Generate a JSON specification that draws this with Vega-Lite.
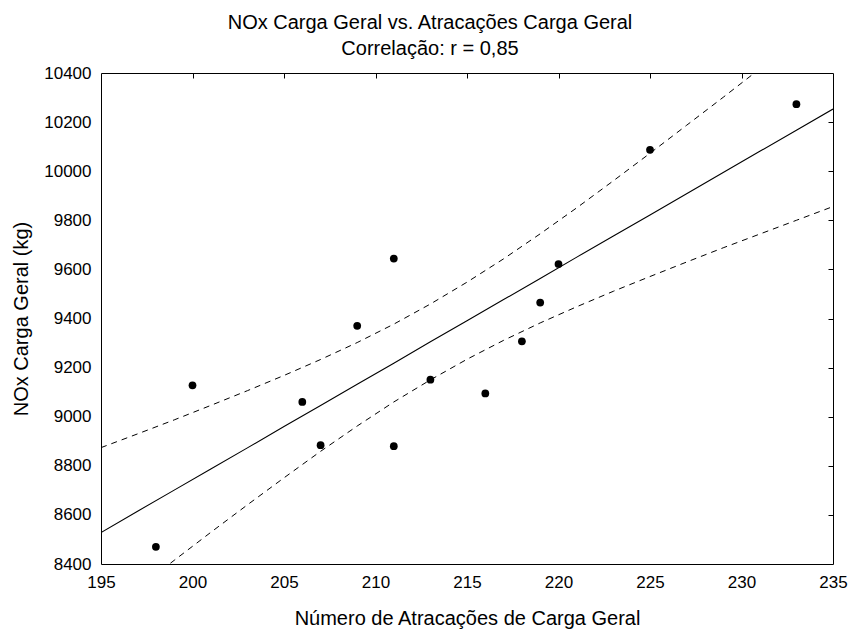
{
  "$schema": "https://vega.github.io/schema/vega-lite/v6.json",
  "width": 732,
  "height": 491,
  "autosize": {"type": "none"},
  "padding": {"left": 101, "top": 73, "right": 18, "bottom": 71},
  "background": "white",
  "config": {
    "font": "Liberation Sans",
    "view": {"stroke": "black", "strokeWidth": 1}
  },
  "title": {
    "text": ["NOx Carga Geral vs. Atracações Carga Geral", "Correlação: r = 0,85"],
    "fontSize": 20,
    "fontWeight": "normal",
    "color": "black",
    "anchor": "middle",
    "frame": "group",
    "dx": -37,
    "dy": 5,
    "lineHeight": 26,
    "offset": 10
  },
  "datasets": {
    "pts": [
      {"atr": 198, "nox": 8470},
      {"atr": 200, "nox": 9128},
      {"atr": 206, "nox": 9060},
      {"atr": 207, "nox": 8884},
      {"atr": 209, "nox": 9370},
      {"atr": 211, "nox": 9644},
      {"atr": 211, "nox": 8880},
      {"atr": 213, "nox": 9151},
      {"atr": 216, "nox": 9095},
      {"atr": 218, "nox": 9307},
      {"atr": 219, "nox": 9465},
      {"atr": 220, "nox": 9622},
      {"atr": 225, "nox": 10087},
      {"atr": 233, "nox": 10273}
    ],
    "fit": [
      {"atr": 195, "fit": 8528, "lower": 8183, "upper": 8874},
      {"atr": 197, "fit": 8615, "lower": 8299, "upper": 8930},
      {"atr": 199, "fit": 8701, "lower": 8415, "upper": 8987},
      {"atr": 201, "fit": 8787, "lower": 8529, "upper": 9046},
      {"atr": 203, "fit": 8873, "lower": 8641, "upper": 9106},
      {"atr": 205, "fit": 8960, "lower": 8751, "upper": 9168},
      {"atr": 207, "fit": 9046, "lower": 8859, "upper": 9233},
      {"atr": 209, "fit": 9132, "lower": 8962, "upper": 9302},
      {"atr": 211, "fit": 9218, "lower": 9060, "upper": 9377},
      {"atr": 213, "fit": 9305, "lower": 9150, "upper": 9459},
      {"atr": 215, "fit": 9391, "lower": 9234, "upper": 9548},
      {"atr": 217, "fit": 9477, "lower": 9311, "upper": 9643},
      {"atr": 219, "fit": 9563, "lower": 9382, "upper": 9745},
      {"atr": 221, "fit": 9650, "lower": 9448, "upper": 9851},
      {"atr": 223, "fit": 9736, "lower": 9511, "upper": 9961},
      {"atr": 225, "fit": 9822, "lower": 9571, "upper": 10073},
      {"atr": 227, "fit": 9908, "lower": 9630, "upper": 10187},
      {"atr": 229, "fit": 9995, "lower": 9688, "upper": 10301},
      {"atr": 231, "fit": 10081, "lower": 9744, "upper": 10417},
      {"atr": 233, "fit": 10167, "lower": 9800, "upper": 10534},
      {"atr": 235, "fit": 10253, "lower": 9856, "upper": 10651}
    ]
  },
  "resolve": {"axis": {"x": "independent", "y": "independent"}},
  "layer": [
    {
      "data": {"name": "fit"},
      "mark": {"type": "line", "clip": true, "color": "black", "strokeWidth": 1, "strokeDash": [6, 5]},
      "encoding": {
        "x": {"field": "atr", "type": "quantitative", "scale": {"domain": [195, 235], "nice": false, "zero": false}, "axis": null},
        "y": {"field": "upper", "type": "quantitative", "scale": {"domain": [8400, 10400], "nice": false, "zero": false}, "axis": null}
      }
    },
    {
      "data": {"name": "fit"},
      "mark": {"type": "line", "clip": true, "color": "black", "strokeWidth": 1, "strokeDash": [6, 5]},
      "encoding": {
        "x": {"field": "atr", "type": "quantitative", "axis": null},
        "y": {"field": "lower", "type": "quantitative", "axis": null}
      }
    },
    {
      "data": {"name": "fit"},
      "mark": {"type": "line", "clip": true, "color": "black", "strokeWidth": 1.1},
      "encoding": {
        "x": {"field": "atr", "type": "quantitative",
          "axis": {"orient": "top", "offset": -5, "values": [200, 205, 210, 215, 220, 225, 230], "labels": false, "domain": false, "ticks": true, "tickSize": 5, "tickWidth": 1, "tickColor": "black", "title": null, "grid": false}},
        "y": {"field": "fit", "type": "quantitative",
          "axis": {"orient": "right", "offset": -5, "values": [8600, 8800, 9000, 9200, 9400, 9600, 9800, 10000, 10200], "labels": false, "domain": false, "ticks": true, "tickSize": 5, "tickWidth": 1, "tickColor": "black", "title": null, "grid": false}}
      }
    },
    {
      "data": {"name": "pts"},
      "mark": {"type": "point", "filled": true, "color": "black", "opacity": 1, "size": 60},
      "encoding": {
        "x": {"field": "atr", "type": "quantitative",
          "axis": {"orient": "bottom", "values": [195, 200, 205, 210, 215, 220, 225, 230, 235], "format": "d", "grid": false, "domain": false, "ticks": false, "labelPadding": 10, "labelFontSize": 17, "labelColor": "black", "labelFlush": false, "title": "Número de Atracações de Carga Geral", "titleFontSize": 20, "titleFontWeight": "normal", "titleColor": "black", "titlePadding": 18}},
        "y": {"field": "nox", "type": "quantitative",
          "axis": {"orient": "left", "values": [8400, 8600, 8800, 9000, 9200, 9400, 9600, 9800, 10000, 10200, 10400], "format": "d", "grid": false, "domain": false, "ticks": false, "labelPadding": 10, "labelFontSize": 17, "labelColor": "black", "labelFlush": false, "title": "NOx Carga Geral (kg)", "titleFontSize": 20, "titleFontWeight": "normal", "titleColor": "black", "titlePadding": 12}}
      }
    }
  ]
}
